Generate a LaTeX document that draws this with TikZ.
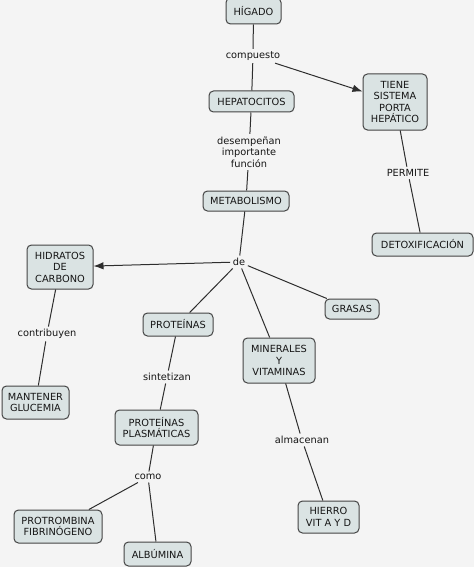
\documentclass[tikz,border=0pt]{standalone}
\usepackage{fontspec}
\setmainfont{DejaVu Sans}
\usetikzlibrary{arrows.meta}
\definecolor{bgc}{HTML}{F4F4F4}
\definecolor{boxfill}{HTML}{DAE3E3}
\definecolor{boxline}{HTML}{444444}
\definecolor{linec}{HTML}{2E2E2E}
\definecolor{txt}{HTML}{151515}
\begin{document}
\begin{tikzpicture}[x=1pt,y=-1pt,
  every node/.style={font=\fontsize{9.8}{11.5}\selectfont, text=txt, align=center},
  concept/.style={draw=boxline, fill=boxfill, line width=1pt, rounded corners=4.5pt, inner sep=1pt},
  lnk/.style={inner sep=2.5pt},
  conn/.style={draw=linec, line width=1pt},
  arr/.style={conn, -{Latex[length=10pt,width=7.5pt]}}
]
\fill[bgc] (0,0) rectangle (474,567);
\useasboundingbox (0,0) rectangle (474,567);
% concepts
\node[concept, minimum width=55pt, minimum height=26pt] (hig) at (253.5,11) {HÍGADO};
\node[concept, minimum width=85pt, minimum height=21pt] (hep) at (251.5,101.5) {HEPATOCITOS};
\node[concept, minimum width=64pt, minimum height=56pt] (tie) at (395,102) {TIENE\\SISTEMA\\PORTA\\HEPÁTICO};
\node[concept, minimum width=86pt, minimum height=20pt] (met) at (246,201) {METABOLISMO};
\node[concept, minimum width=66pt, minimum height=44pt] (hid) at (60,267) {HIDRATOS\\DE\\CARBONO};
\node[concept, minimum width=54pt, minimum height=20pt] (gra) at (352,309) {GRASAS};
\node[concept, minimum width=101pt, minimum height=23pt] (det) at (422.5,244.5) {DETOXIFICACIÓN};
\node[concept, minimum width=70pt, minimum height=23pt] (pro) at (178,324.5) {PROTEÍNAS};
\node[concept, minimum width=67pt, minimum height=33pt] (man) at (35.5,402.5) {MANTENER\\GLUCEMIA};
\node[concept, minimum width=72pt, minimum height=45pt] (min) at (279,360.5) {MINERALES\\Y\\VITAMINAS};
\node[concept, minimum width=83pt, minimum height=35pt] (ppl) at (156.5,427.5) {PROTEÍNAS\\PLASMÁTICAS};
\node[concept, minimum width=88pt, minimum height=33pt] (ptr) at (58,526.5) {PROTROMBINA\\FIBRINÓGENO};
\node[concept, minimum width=67pt, minimum height=24pt] (alb) at (157.5,554) {ALBÚMINA};
\node[concept, minimum width=61pt, minimum height=32pt] (hie) at (328.5,517) {HIERRO\\VIT A Y D};
% linking phrases
\node[lnk] (com) at (253,56) {compuesto};
\node[lnk] (des) at (249,152) {desempeñan\\importante\\función};
\node[lnk] (de) at (239,262) {de};
\node[lnk] (per) at (408,173) {PERMITE};
\node[lnk] (con) at (47,334) {contribuyen};
\node[lnk] (sin) at (167,377) {sintetizan};
\node[lnk] (alm) at (302,440) {almacenan};
\node[lnk] (como) at (148,477) {como};
% connectors
\draw[conn] (hig) -- (com);
\draw[conn] (com) -- (hep);
\draw[arr] (com) -- (tie);
\draw[conn] (hep) -- (des);
\draw[conn] (des) -- (met);
\draw[conn] (tie) -- (per);
\draw[conn] (per) -- (det);
\draw[conn] (met) -- (de);
\draw[arr] (de) -- (hid);
\draw[conn] (de) -- (pro);
\draw[conn] (de) -- (min);
\draw[conn] (de) -- (gra);
\draw[conn] (hid) -- (con);
\draw[conn] (con) -- (man);
\draw[conn] (pro) -- (sin);
\draw[conn] (sin) -- (ppl);
\draw[conn] (ppl) -- (como);
\draw[conn] (como) -- (ptr);
\draw[conn] (como) -- (alb);
\draw[conn] (min) -- (alm);
\draw[conn] (alm) -- (hie);
\end{tikzpicture}
\end{document}
